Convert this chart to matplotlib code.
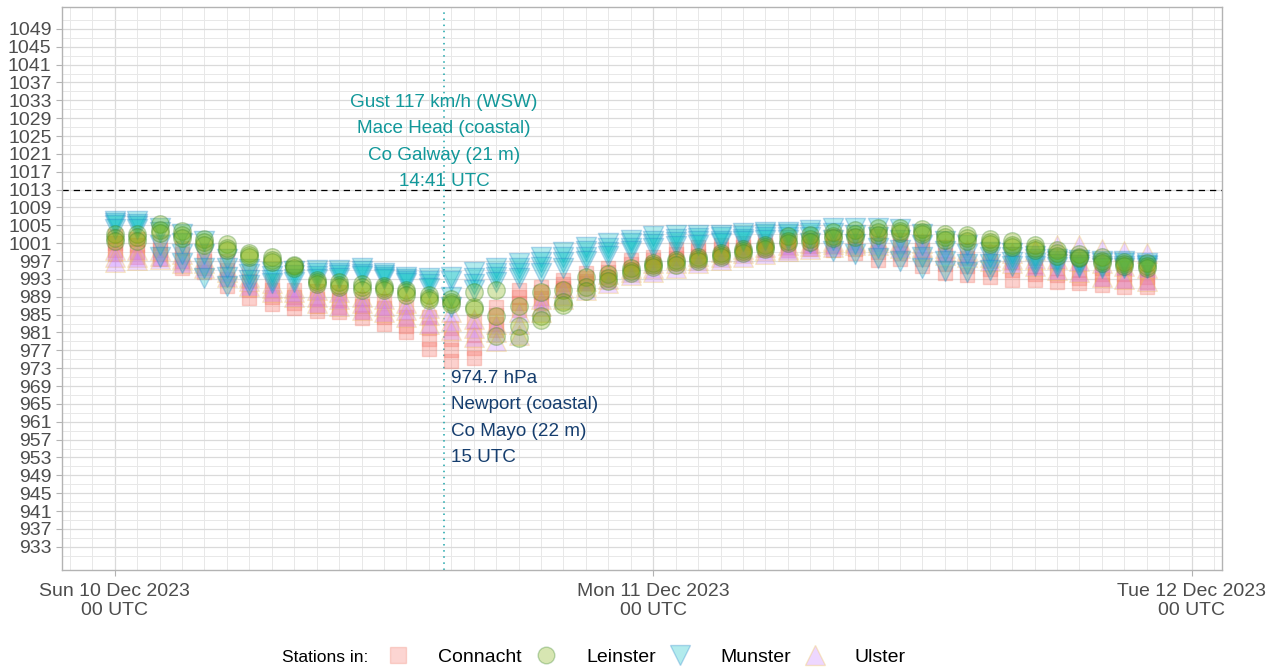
"""
Mean sea level pressure at Irish stations, 10-11 Dec 2023
"""
import numpy as np
import pandas as pd
import matplotlib.pyplot as plt
import matplotlib.dates as mdates
from matplotlib.lines import Line2D

plt.rcParams['font.family'] = ['Liberation Sans', 'DejaVu Sans']

# hourly obs times (00 UTC Sun 10 Dec to 22 UTC Mon 11 Dec)
times = pd.date_range('2023-12-10 00:00', periods=47, freq='h')

# pressure (hPa), a few stations per province
connacht_a = [1002.5, 1002, 1001, 1000, 999, 997, 994.5, 992.5, 990.5, 990.3, 990, 988.5, 988, 986.6, 984.4, 982,
              983.5, 986.8, 990.5, 991.3, 992.8, 994.3, 995.5, 997.2, 998, 999.6, 1000.2, 1000.6, 1001, 1001.4, 1001.8,
              1002, 1002.5, 1002.5, 1002.5, 1001.8, 1001.2, 1000.2, 999.5, 999, 998.6, 997.6, 997, 996.5, 995.4, 995.4,
              994.6]
connacht_b = [1001, 1000.5, 999.5, 998.5, 997, 995, 992.5, 990.5, 989, 988.5, 988.3, 987, 986.5, 984.5, 982, 979.5,
              980.5, 985, 989, 990, 991.8, 993.3, 994.5, 996.3, 997.2, 998.6, 999.2, 999.6, 1000.2, 1000.6, 1001,
              1001.2, 1001.4, 1001.2, 1000.8, 1000.3, 999.5, 998.4, 997.6, 997, 996.8, 996, 995.4, 995, 994.2, 994,
              993.4]
connacht_c = [999.5, 999, 998.5, 997, 995.5, 993, 990.5, 989, 987.5, 987, 986.8, 985.5, 984.5, 982.5, 979.5, 977,
              977.5, 983, 987.5, 988.8, 991, 992.5, 993.5, 995.3, 996.3, 997.6, 998.2, 998.6, 999.4, 999.8, 1000.2,
              1000.4, 1000.4, 999.8, 999, 998.8, 997.5, 996.4, 995.8, 995.3, 995, 994.2, 993.8, 993.3, 993, 992.6,
              992.3]
connacht_d = [998.5, 998, 997.5, 995.5, 994.5, 991.5, 988.8, 987.3, 986.5, 985.8, 985.5, 984.3, 982.8, 981, 977.3,
              974.7, 975.2, 981.6, 986.1, 987.6, 990.6, 992, 992.8, 994.7, 995.8, 996.6, 997.3, 998, 998.8, 999.4,
              999.4, 999.6, 999.5, 998.8, 997.3, 997.5, 995.8, 994.3, 993.9, 993.5, 992.8, 992.8, 992.4, 992, 991.7,
              991.3, 991.3]

leinster_a = [1003, 1003, 1005.2, 1003.8, 1002, 1000.8, 998.8, 997.8, 996.2, 992.8, 992.2, 991.8, 991.4, 990.6, 989.3,
              988.4, 990, 990.6, 987, 990, 990.5, 993.5, 994.2, 995.5, 996.6, 997.2, 998, 998.8, 999.8, 1000.6,
              1002.5, 1002.8, 1003.5, 1004, 1004.3, 1004.5, 1004.2, 1003, 1002.8, 1002, 1001.4, 1000.6, 999.4, 998.6,
              997.8, 996.8, 996.6]
leinster_b = [1002.2, 1002.3, 1004, 1002.8, 1001.2, 1000, 998.3, 997.3, 995.8, 992.2, 991.6, 991.1, 990.9, 990, 988.7,
              987.8, 986.7, 984.6, 982.5, 984.8, 987.8, 991.3, 993.2, 994.8, 996.1, 996.7, 997.5, 998.3, 999.3,
              1000.1, 1001.6, 1002, 1002.7, 1003.1, 1003.5, 1003.8, 1003.6, 1002.3, 1002.1, 1001.3, 1000.7, 999.9,
              998.7, 998, 997.1, 996.3, 996]
leinster_c = [1001.6, 1001.6, 1003.2, 1002.2, 1000.6, 999.5, 997.8, 996.8, 995.4, 991.8, 991.1, 990.6, 990.5, 989.5,
              988.2, 987.3, 986.2, 980.2, 979.8, 983.8, 987.1, 990.4, 992.6, 994.3, 995.6, 996.2, 997, 997.8, 998.8,
              999.6, 1001, 1001.3, 1002.1, 1002.4, 1002.9, 1003.2, 1003.1, 1001.8, 1001.6, 1000.8, 1000.2, 999.4,
              998.2, 997.6, 996.6, 995.9, 995.5]

munster_a = [1006, 1006, 1004.5, 1003, 1001.5, 997.5, 995.3, 994.5, 994.8, 995, 995, 995.4, 994.4, 993.5, 993.3, 993.4,
             994.6, 995.4, 996.5, 998, 999.1, 1000.2, 1001, 1001.8, 1002.5, 1002.8, 1002.9, 1002.9, 1003.2, 1003.5,
             1003.6, 1004, 1004.3, 1004.3, 1004.3, 1004.1, 1003, 1001.4, 1000.6, 999, 998.8, 998.2, 997.5, 997.3,
             997, 997, 996.6]
munster_b = [1005.5, 1005.3, 1003.5, 1001, 998.5, 995.5, 994, 993.6, 993.8, 994.3, 994.4, 994.8, 993.9, 993, 992.6,
             992.6, 993.3, 994.4, 995.4, 996.8, 998, 999.2, 1000, 1001, 1001.6, 1002, 1002.2, 1002.3, 1002.6, 1003,
             1003, 1003.2, 1003.2, 1002.8, 1002.4, 1001.8, 1000.6, 999.2, 998.6, 997.8, 997.8, 997.4, 997, 996.8,
             996.5, 996.5, 996.2]
munster_c = [1005, 1004.8, 1000.5, 998.5, 995.5, 993.5, 992.8, 992.7, 993, 993.6, 993.8, 994.2, 993.4, 992.5, 991.8,
             989, 991.8, 993.4, 994.3, 995.6, 996.7, 998, 999, 1000, 1000.8, 1001.2, 1001.4, 1001.6, 1002, 1002.4,
             1002.4, 1002.3, 1001.8, 1000.8, 1000, 999.4, 998, 997, 996.4, 996.4, 996.8, 996.6, 996.3, 996.2, 996,
             996, 995.8]
munster_d = [1004.2, 1004.2, 998, 996.5, 993.2, 991.5, 991.6, 992, 992.3, 993, 993.2, 993.6, 992.9, 992, 991, 986.6,
             990.5, 992.4, 993.2, 994.4, 995.5, 997, 998.2, 999.2, 1000, 1000.4, 1000.7, 1001, 1001.4, 1001.8, 1001.8,
             1001, 999.2, 998.5, 997.6, 997, 995.4, 994.8, 994.6, 995, 996, 996, 995.7, 995.6, 995.4, 995.4, 995.4]

ulster_a = [999.5, 999.5, 999.5, 998.5, 997.5, 995.5, 993.5, 992, 991, 990.5, 990, 989, 988.5, 987.5, 986.5, 985.5,
            984, 983, 985.5, 988.5, 991, 992.5, 994, 995.5, 996.5, 997.5, 998.2, 999, 999.6, 1000.2, 1000.6, 1001,
            1001.4, 1001.6, 1001.8, 1001.6, 1001, 1000, 999.5, 999, 998.8, 999.5, 1000.5, 1000.5, 999.8, 999.3,
            998.8]
ulster_b = [998, 998, 998.2, 997.5, 996.5, 994.5, 992.5, 991, 990, 989, 988.5, 987.5, 987, 986, 985, 983.5, 982, 981,
            983, 987, 989.5, 991.5, 993, 994.5, 995.5, 996.5, 997.3, 998, 998.8, 999.4, 999.8, 1000.3, 1000.8, 1001,
            1001.2, 1000.8, 1000.2, 999.2, 998.6, 998, 997.5, 997.5, 997.5, 997, 996.5, 996, 995.5]
ulster_c = [996.8, 997.3, 997.5, 996.5, 995.5, 993.5, 991.5, 990, 989, 987.5, 987, 986, 985.5, 984.5, 983, 981.5, 980,
            979, 980.5, 985.5, 988.5, 990.5, 992, 993.8, 994.6, 995.5, 996.5, 997.2, 998, 998.6, 999.2, 999.6, 1000.2,
            1000.5, 1000.6, 1000, 999.4, 998.4, 997.8, 997, 996.5, 995.8, 995, 994.5, 993.5, 993, 992.5]

provinces = ['Connacht', 'Leinster', 'Munster', 'Ulster']
stations = {
    'Connacht': [connacht_a, connacht_b, connacht_c, connacht_d],
    'Leinster': [leinster_a, leinster_b, leinster_c],
    'Munster': [munster_a, munster_b, munster_c, munster_d],
    'Ulster': [ulster_a, ulster_b, ulster_c],
}
fills = {'Connacht': '#F8766D', 'Leinster': '#7CAE00', 'Munster': '#00BFC4', 'Ulster': '#C77CFF'}
edges = {'Connacht': '#F08070', 'Leinster': '#2E7D1E', 'Munster': '#1F7FC8', 'Ulster': '#F0C040'}
markers = {'Connacht': 's', 'Leinster': 'o', 'Munster': 'v', 'Ulster': '^'}
sizes = {'Connacht': 110, 'Leinster': 160, 'Munster': 210, 'Ulster': 200}
alphas = {'Connacht': 0.34, 'Leinster': 0.3, 'Munster': 0.3, 'Ulster': 0.28}

gust_time = pd.Timestamp('2023-12-10 14:41')
gust_text = 'Gust 117 km/h (WSW)\nMace Head (coastal)\nCo Galway (21 m)\n14:41 UTC'
low_time = pd.Timestamp('2023-12-10 15:00')
low_value = 974.7
low_text = '974.7 hPa\nNewport (coastal)\nCo Mayo (22 m)\n15 UTC'

fig = plt.figure(figsize=(12.71, 6.68), dpi=100)
ax = fig.add_axes([0.0488, 0.1467, 0.9126, 0.8428])

# draw points, Leinster last so the circles sit on top
for prov in ['Connacht', 'Ulster', 'Munster', 'Leinster']:
    for st in stations[prov]:
        ax.scatter(times, st, marker=markers[prov], s=sizes[prov], facecolor=fills[prov],
                   edgecolor=edges[prov], linewidth=1.0, alpha=alphas[prov], zorder=3)

# standard pressure and gust time
ax.axhline(1013, color='black', linestyle=(0, (5, 4)), linewidth=0.9, zorder=2)
ax.axvline(gust_time, color='#1AA3A8', linestyle=(0, (1, 3)), linewidth=1.1, zorder=2)

ax.text(gust_time, 1012.9, gust_text, ha='center', va='bottom', color='#12989A',
        fontsize=13.6, linespacing=1.72, zorder=4)
ax.text(low_time, low_value - 2.1, low_text, ha='left', va='top', color='#163E6E',
        fontsize=13.6, linespacing=1.72, zorder=4)

# axes
ax.set_ylim(927.8, 1053.9)
ax.set_xlim(times[0] - pd.Timedelta(hours=2.35), times[0] + pd.Timedelta(hours=49.35))
ax.set_yticks(np.arange(933, 1050, 4))
ax.set_yticks(np.arange(931, 1053, 4), minor=True)
ax.xaxis.set_major_locator(mdates.DayLocator())
ax.xaxis.set_major_formatter(mdates.DateFormatter('%a %d %b %Y\n%H UTC'))
ax.xaxis.set_minor_locator(mdates.HourLocator())

ax.grid(which='major', color='#DADADA', linewidth=0.9, zorder=0)
ax.grid(which='minor', color='#E8E8E8', linewidth=0.7, zorder=0)
ax.set_axisbelow(True)
for sp in ax.spines.values():
    sp.set_color('#B3B3B3')
    sp.set_linewidth(1.0)
ax.tick_params(which='major', length=4, color='#B3B3B3', labelcolor='#4D4D4D', labelsize=14)
ax.tick_params(which='minor', length=0)
ax.tick_params(axis='x', pad=5)

# legend along the bottom
handles = [Line2D([], [], linestyle='none', marker=markers[p], markersize=14 if p in ('Munster', 'Ulster') else 12,
                  markerfacecolor=fills[p], markeredgecolor=edges[p], alpha=0.3) for p in provinces]
fig.text(282 / 1271, 1 - 657 / 668, 'Stations in:', ha='left', va='center', fontsize=12.5, color='black')
fig.legend(handles, provinces, loc='center', bbox_to_anchor=(645 / 1271, 1 - 657 / 668), ncol=4,
           frameon=False, fontsize=14, handletextpad=1.3, columnspacing=0.5, handlelength=1.5)

plt.savefig('out.png', dpi=100)
